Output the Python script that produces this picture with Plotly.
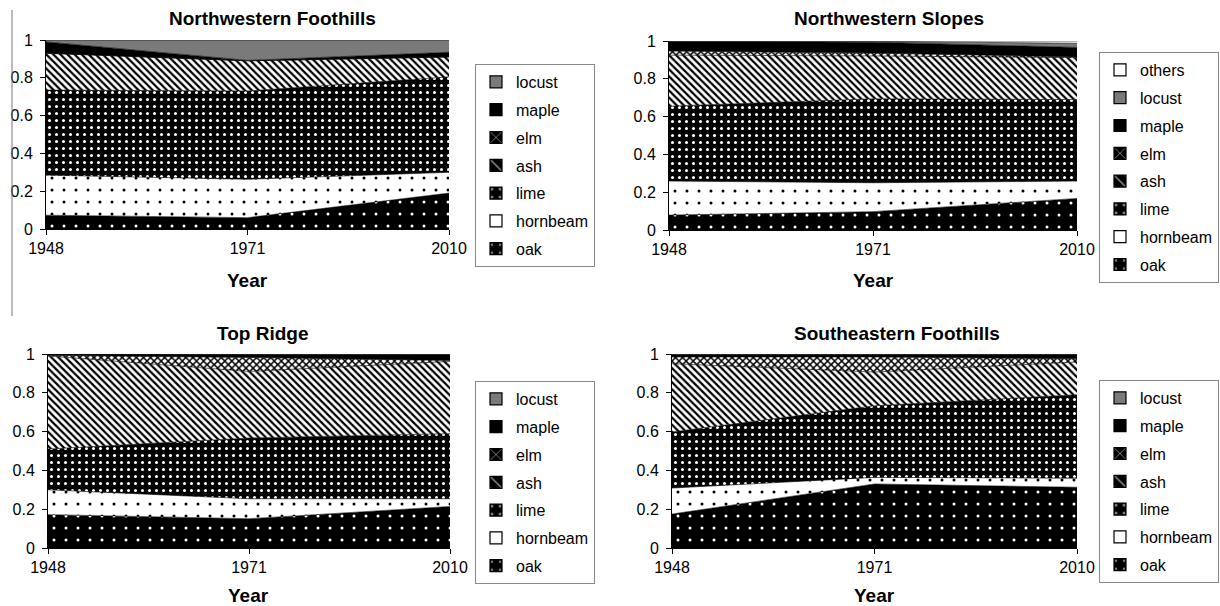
import plotly.graph_objects as go

# ---------------- data ----------------
years = ["1948", "1971", "2010"]
species = ["oak", "hornbeam", "lime", "ash", "elm", "maple", "locust", "others"]

# proportions of each species per year (stacked to 1)
nw_foothills = {
    "oak":      [0.073, 0.060, 0.190],
    "hornbeam": [0.212, 0.203, 0.110],
    "lime":     [0.450, 0.467, 0.505],
    "ash":      [0.195, 0.160, 0.105],
    "elm":      [0.000, 0.000, 0.000],
    "maple":    [0.060, 0.002, 0.025],
    "locust":   [0.010, 0.108, 0.065],
}
nw_slopes = {
    "oak":      [0.079, 0.097, 0.167],
    "hornbeam": [0.180, 0.153, 0.092],
    "lime":     [0.396, 0.444, 0.431],
    "ash":      [0.270, 0.227, 0.222],
    "elm":      [0.022, 0.015, 0.004],
    "maple":    [0.050, 0.058, 0.050],
    "locust":   [0.002, 0.004, 0.022],
    "others":   [0.001, 0.002, 0.012],
}
top_ridge = {
    "oak":      [0.172, 0.151, 0.214],
    "hornbeam": [0.128, 0.103, 0.040],
    "lime":     [0.210, 0.313, 0.335],
    "ash":      [0.480, 0.343, 0.373],
    "elm":      [0.003, 0.072, 0.005],
    "maple":    [0.007, 0.016, 0.031],
    "locust":   [0.000, 0.002, 0.002],
}
se_foothills = {
    "oak":      [0.175, 0.330, 0.313],
    "hornbeam": [0.134, 0.034, 0.047],
    "lime":     [0.289, 0.369, 0.430],
    "ash":      [0.352, 0.174, 0.169],
    "elm":      [0.035, 0.078, 0.016],
    "maple":    [0.013, 0.013, 0.022],
    "locust":   [0.002, 0.002, 0.003],
}
titles = ["Northwestern Foothills", "Northwestern Slopes", "Top Ridge", "Southeastern Foothills"]
regions = [nw_foothills, nw_slopes, top_ridge, se_foothills]
y_ticks = [0, 0.2, 0.4, 0.6, 0.8, 1]

# ---------------- styles ----------------
STYLE = {
    "oak":      dict(bg="black", fg="white", shape=".", size=12, sol=0.05),
    "hornbeam": dict(bg="white", fg="black", shape=".", size=12, sol=0.05),
    "lime":     dict(bg="black", fg="white", shape=".", size=7, sol=0.15),
    "ash":      dict(bg="white", fg="black", shape="\\", size=5, sol=0.45),
    "elm":      dict(bg="white", fg="black", shape="x", size=5, sol=0.5),
    "maple":    dict(bg="black", fg="black", shape="", size=8, sol=0.3),
    "locust":   dict(bg="#7a7a7a", fg="#7a7a7a", shape="", size=8, sol=0.3),
    "others":   dict(bg="white", fg="white", shape="", size=8, sol=0.3),
}
# legend swatch looks
SWATCH = {
    "oak":      dict(bg="black", fg="white", shape=".", size=12, sol=0.08),
    "hornbeam": dict(bg="white", fg="white", shape="", size=12, sol=0.1),
    "lime":     dict(bg="black", fg="white", shape=".", size=12, sol=0.12),
    "ash":      dict(bg="black", fg="white", shape="\\", size=12, sol=0.2),
    "elm":      dict(bg="black", fg="white", shape="x", size=12, sol=0.2),
    "maple":    dict(bg="black", fg="black", shape="", size=12, sol=0.1),
    "locust":   dict(bg="#7a7a7a", fg="#7a7a7a", shape="", size=12, sol=0.1),
    "others":   dict(bg="white", fg="white", shape="", size=12, sol=0.1),
}

FONT = "Liberation Sans, Arial, sans-serif"
W, H = 1220, 606

# plot-area boxes in pixels: (left, right, top, bottom)
boxes = [(46, 449, 40, 229), (669, 1077, 41, 230), (48, 450, 354, 548), (672, 1077, 354, 548)]
# legend boxes: (right edge, top edge)
legend_pos = [(595, 64), (1219, 52), (595, 381), (1219, 380)]
title_pos = [(272, 18), (889, 18), (262, 333), (897, 333)]
year_y = [280, 280, 595, 595]

fig = go.Figure()

for i, (reg, box) in enumerate(zip(regions, boxes)):
    n = i + 1
    xa = "x" if n == 1 else f"x{n}"
    ya = "y" if n == 1 else f"y{n}"
    lg = "legend" if n == 1 else f"legend{n}"
    present = [sp for sp in species if sp in reg]
    for sp in present:
        st = STYLE[sp]
        fig.add_trace(go.Scatter(
            x=years, y=reg[sp], xaxis=xa, yaxis=ya,
            stackgroup=f"g{n}", mode="lines",
            line=dict(color="black", width=0.6),
            fillcolor=st["bg"],
            fillpattern=dict(shape=st["shape"], bgcolor=st["bg"], fgcolor=st["fg"],
                             size=st["size"], solidity=st["sol"], fillmode="replace"),
            showlegend=False, hoverinfo="skip", name=sp,
        ))
    # legend-only entries (square swatches), top item = last stacked layer
    for sp in reversed(present):
        st = SWATCH[sp]
        fig.add_trace(go.Bar(
            x=[None], y=[None], xaxis=xa, yaxis=ya, name=sp,
            legend=lg, legendgroup=f"{n}-{sp}", showlegend=True,
            marker=dict(color=st["bg"], line=dict(color="black", width=1.2),
                        pattern=dict(shape=st["shape"], bgcolor=st["bg"], fgcolor=st["fg"],
                                     size=st["size"], solidity=st["sol"])),
        ))

layout = dict(
    width=W, height=H, margin=dict(l=0, r=0, t=0, b=0, autoexpand=False),
    paper_bgcolor="white", plot_bgcolor="white",
    font=dict(family=FONT, size=16, color="black"),
    showlegend=True,
    annotations=[], shapes=[],
)

for i, box in enumerate(boxes):
    n = i + 1
    l, r, t, b = box
    xk = "xaxis" if n == 1 else f"xaxis{n}"
    yk = "yaxis" if n == 1 else f"yaxis{n}"
    ya = "y" if n == 1 else f"y{n}"
    xa = "x" if n == 1 else f"x{n}"
    layout[xk] = dict(
        domain=[l / W, r / W], anchor=ya, type="category", range=[0, 2],
        showline=True, linecolor="black", linewidth=1,
        ticks="outside", ticklen=5, tickcolor="black",
        showgrid=False, zeroline=False, automargin=False,
        tickfont=dict(family=FONT, size=16, color="black"),
        fixedrange=True,
    )
    layout[yk] = dict(
        domain=[1 - b / H, 1 - t / H], anchor=xa, range=[0, 1],
        tickvals=y_ticks, ticktext=[f"{v:g}" for v in y_ticks],
        showline=True, linecolor="black", linewidth=1,
        ticks="outside", ticklen=5, tickcolor="black",
        ticklabelstandoff=4,
        showgrid=False, zeroline=False, automargin=False,
        tickfont=dict(family=FONT, size=16, color="black"),
        fixedrange=True,
    )
    lk = "legend" if n == 1 else f"legend{n}"
    lx, ly = legend_pos[i]
    layout[lk] = dict(
        x=lx / W, y=1 - ly / H, xanchor="right", yanchor="top",
        xref="paper", yref="paper",
        bordercolor="#888888", borderwidth=1, bgcolor="white",
        font=dict(family=FONT, size=16, color="black"),
        traceorder="grouped", tracegroupgap=4,
        itemwidth=30,
    )
    tx, ty = title_pos[i]
    layout["annotations"].append(dict(
        text=f"<b>{titles[i]}</b>", x=tx / W, y=1 - ty / H, xref="paper", yref="paper",
        xanchor="center", yanchor="middle", showarrow=False,
        font=dict(family=FONT, size=19, color="black"),
    ))
    layout["annotations"].append(dict(
        text="<b>Year</b>", x=(l + r) / 2 / W, y=1 - year_y[i] / H, xref="paper", yref="paper",
        xanchor="center", yanchor="middle", showarrow=False,
        font=dict(family=FONT, size=19, color="black"),
    ))

# thin vertical rule at the far left (as in the source page)
layout["shapes"].append(dict(type="line", xref="paper", yref="paper",
                             x0=12 / W, x1=12 / W, y0=1 - 10 / H, y1=1 - 316 / H,
                             line=dict(color="#777777", width=1)))

fig.update_layout(**layout)
fig.write_html("out.html", config={"displayModeBar": False},
               post_script="document.body.style.margin='0';document.body.style.overflow='hidden';")
